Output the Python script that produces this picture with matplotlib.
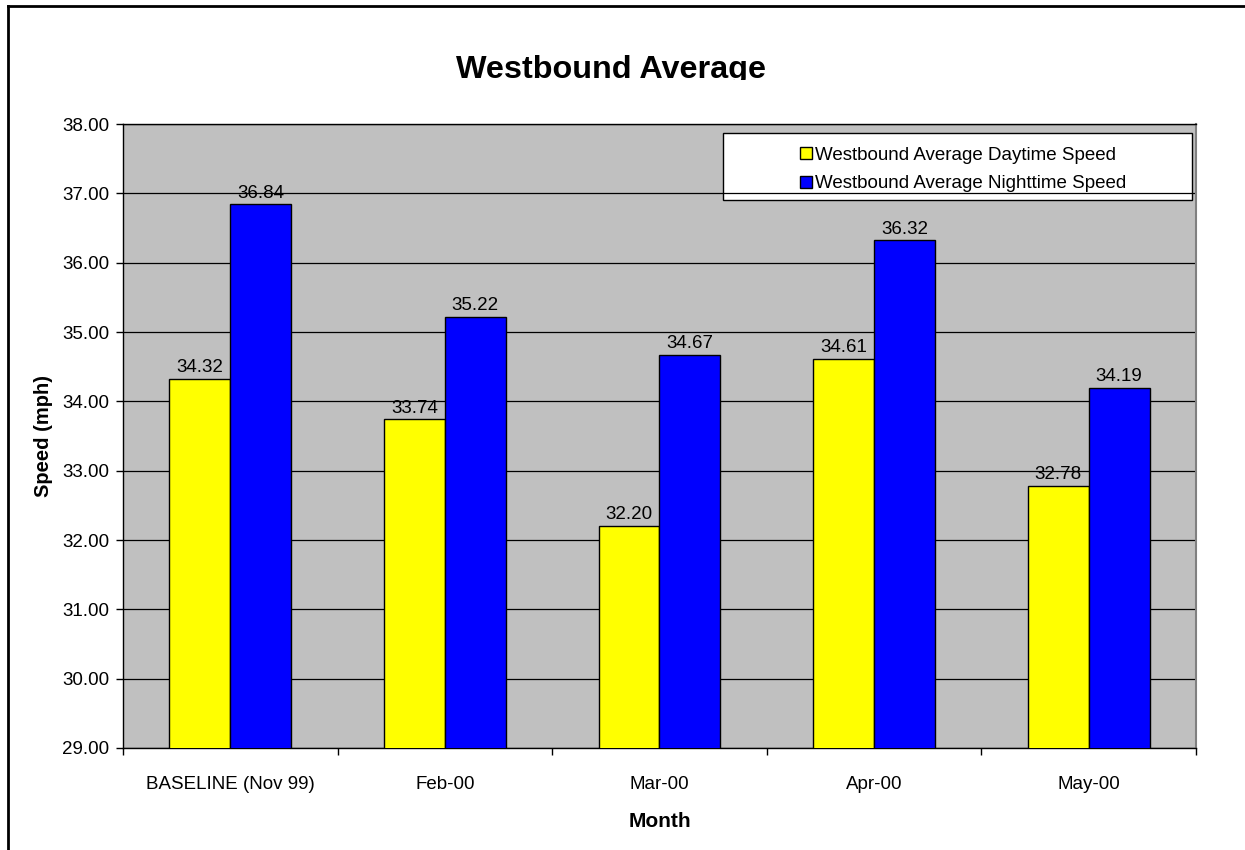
import matplotlib
matplotlib.use("Agg")
import matplotlib.pyplot as plt
import numpy as np
from matplotlib.lines import Line2D
from matplotlib.patches import Rectangle, Patch
from matplotlib.transforms import Bbox, TransformedBbox

plt.rcParams["font.family"] = ["Liberation Sans", "DejaVu Sans"]

# data
months = ["BASELINE (Nov 99)", "Feb-00", "Mar-00", "Apr-00", "May-00"]
daytime = [34.32, 33.74, 32.20, 34.61, 32.78]
nighttime = [36.84, 35.22, 34.67, 36.32, 34.19]
series_names = ["Westbound Average Daytime Speed", "Westbound Average Nighttime Speed"]
y_ticks = [29, 30, 31, 32, 33, 34, 35, 36, 37, 38]

fig = plt.figure(figsize=(12.45, 8.5), dpi=100)
ax = fig.add_axes([0.0988, 0.12, 0.8618, 0.7341])
ax.set_facecolor("#C0C0C0")

x = np.arange(len(months))
w = 0.284
b1 = ax.bar(x - w / 2, daytime, w, color="#FFFF00", edgecolor="black", linewidth=1.0, zorder=3)
b2 = ax.bar(x + w / 2, nighttime, w, color="#0000FF", edgecolor="black", linewidth=1.0, zorder=3)

for bars, vals in ((b1, daytime), (b2, nighttime)):
    for r, v in zip(bars, vals):
        ax.annotate(f"{v:.2f}", (r.get_x() + r.get_width() / 2, v), xytext=(0, 2),
                    textcoords="offset points", ha="center", va="bottom", fontsize=13.5, zorder=4)

ax.set_ylim(29, 38)
ax.set_xlim(-0.5, len(months) - 0.5)
ax.set_yticks(y_ticks)
ax.set_yticklabels([f"{t:.2f}" for t in y_ticks], fontsize=13.5)
ax.set_axisbelow(True)
ax.yaxis.grid(True, color="black", linewidth=0.9)
ax.tick_params(axis="y", direction="out", length=5, width=1, pad=5)

# major ticks at category boundaries, labels on minor ticks
ax.set_xticks(np.arange(-0.5, len(months), 1.0))
ax.set_xticklabels([])
ax.set_xticks(x, minor=True)
ax.set_xticklabels(months, minor=True, fontsize=13.5)
ax.tick_params(axis="x", which="major", direction="out", length=5, width=1)
ax.tick_params(axis="x", which="minor", length=0, pad=20)

for s in ("left", "bottom", "top"):
    ax.spines[s].set_color("black")
    ax.spines[s].set_linewidth(1.0)
ax.spines["right"].set_color("#808080")
ax.spines["right"].set_linewidth(1.5)

ax.set_ylabel("Speed (mph)", fontsize=14.5, fontweight="bold", labelpad=6.5)
ax.set_xlabel("Month", fontsize=15, fontweight="bold", labelpad=14)

# legend box (drawn under the gridlines like the original)
ax.add_patch(Rectangle((0.559, 0.878), 0.437, 0.1076, transform=ax.transAxes,
                       facecolor="white", edgecolor="black", linewidth=1.0, zorder=0.3))
handles = [Patch(facecolor="#FFFF00", edgecolor="black"), Patch(facecolor="#0000FF", edgecolor="black")]
ax.legend(handles, series_names, loc="center", bbox_to_anchor=(0.783, 0.927), frameon=False,
          fontsize=13.5, handlelength=0.65, handleheight=0.65, handletextpad=0.12, labelspacing=0.62)

# title clipped at bottom as in original
t = fig.text(0.491, 1 - 78 / 850, "Westbound Average", ha="center", va="baseline", fontsize=23.3, fontweight="bold")
t.set_clip_box(TransformedBbox(Bbox([[0, 1 - 80 / 850], [1, 1]]), fig.transFigure))

# outer frame (only left and top visible)
fig.add_artist(Line2D([8 / 1245, 8 / 1245], [0, 1 - 6 / 850], color="black", linewidth=2, transform=fig.transFigure))
fig.add_artist(Line2D([8 / 1245, 1], [1 - 6 / 850, 1 - 6 / 850], color="black", linewidth=2, transform=fig.transFigure))

fig.savefig("out.png", dpi=100)
